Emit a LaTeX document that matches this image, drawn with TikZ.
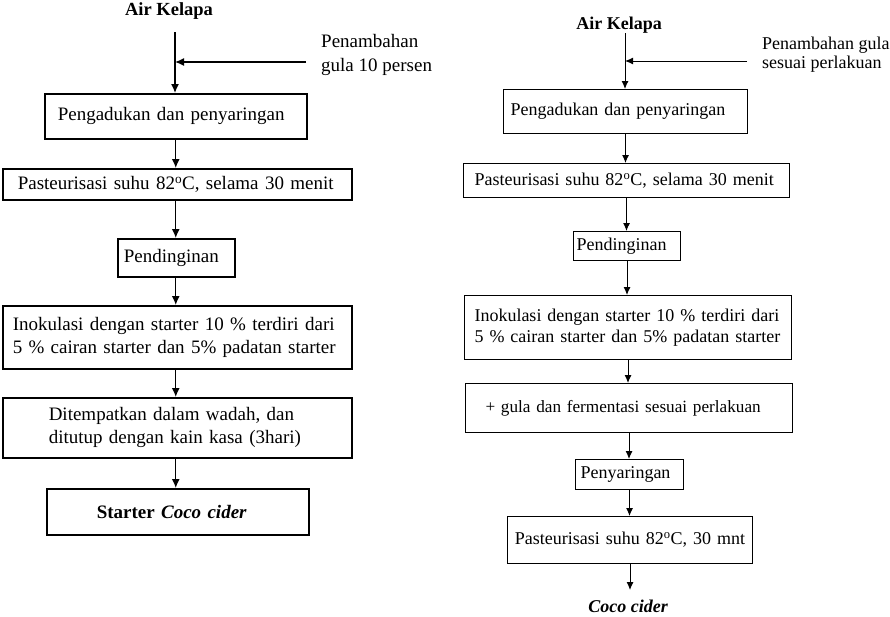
\documentclass[tikz,border=0pt]{standalone}
\usepackage{fontspec}
\setmainfont{Liberation Serif}
\usetikzlibrary{arrows.meta}
\begin{document}
\begin{tikzpicture}[x=1pt,y=-1pt,
 lbox/.style={draw, line width=1.5pt, anchor=north west, inner ysep=0pt, font=\fontsize{19}{23}\selectfont, align=left},
 rbox/.style={draw, line width=1pt, anchor=north west, inner ysep=0pt, font=\fontsize{18}{21}\selectfont, align=left},
 larr/.style={line width=1.4pt, -{Latex[length=9pt,width=8pt]}},
 rarr/.style={line width=1pt, -{Latex[length=8pt,width=7pt]}},
 ltxt/.style={font=\fontsize{19}{23}\selectfont, inner sep=0pt, anchor=base west},
 rtxt/.style={font=\fontsize{18}{21}\selectfont, inner sep=0pt, anchor=base west}]
\useasboundingbox (0,0) rectangle (890,616);

% ---------------- left chart ----------------
\node[font=\fontsize{18.5}{22}\selectfont\bfseries, inner sep=0pt, anchor=base] (lak) at (169,15) {Air Kelapa};
\coordinate (ltop) at (175,32);
\coordinate (lside) at (306,62);
\node[ltxt] (lp1) at (321,47) {Penambahan};
\node[ltxt] (lp2) at (321,71) {gula 10 persen};

\node[lbox, minimum width=262pt, minimum height=45pt, inner xsep=13pt, text width=236pt] (b1) at (44,93) {Pengadukan dan penyaringan};
\node[lbox, minimum width=349pt, minimum height=31pt, inner xsep=15pt, text width=319pt] (b2) at (2,168) {Pasteurisasi suhu 82\textsuperscript{o}C, selama 30 menit};
\node[lbox, minimum width=117pt, minimum height=38pt, inner xsep=6pt, text width=105pt] (b3) at (117,238) {Pendinginan};
\node[lbox, minimum width=349pt, minimum height=63pt, inner xsep=10pt, text width=329pt] (b4) at (2,305) {Inokulasi dengan starter 10 \% terdiri dari\\5 \% cairan starter dan 5\% padatan starter};
\node[lbox, minimum width=349pt, minimum height=60pt, inner xsep=46pt, text width=257pt] (b5) at (2,397) {Ditempatkan dalam wadah, dan\\ditutup dengan kain kasa (3hari)};
\node[lbox, minimum width=262pt, minimum height=46pt, inner xsep=50pt, text width=162pt] (b6) at (46,488) {\textbf{Starter \textit{Coco cider}}};

\draw[larr] (ltop) -- (ltop |- b1.north);
\draw[larr] (lside) -- (lside -| ltop);
\draw[larr] (b1.south) -- (b1.south |- b2.north);
\draw[larr] (b2.south -| b1.south) -- (b1.south |- b3.north);
\draw[larr] (b3.south -| b1.south) -- (b1.south |- b4.north);
\draw[larr] (b4.south -| b1.south) -- (b1.south |- b5.north);
\draw[larr] (b5.south -| b1.south) -- (b1.south |- b6.north);

% ---------------- right chart ----------------
\node[font=\fontsize{18}{21}\selectfont\bfseries, inner sep=0pt, anchor=base] (rak) at (619,29) {Air Kelapa};
\coordinate (rtop) at (625,33);
\coordinate (rside) at (747,61);
\node[rtxt] (rp1) at (762,49) {Penambahan gula};
\node[rtxt] (rp2) at (762,68) {sesuai perlakuan};

\node[rbox, minimum width=244pt, minimum height=44pt, inner xsep=7pt, text width=230pt] (r1) at (503,89) {Pengadukan dan penyaringan};
\node[rbox, minimum width=326pt, minimum height=34pt, inner xsep=11pt, text width=304pt] (r2) at (463,163) {Pasteurisasi suhu 82\textsuperscript{o}C, selama 30 menit};
\node[rbox, minimum width=107pt, minimum height=29pt, inner xsep=3pt, text width=101pt] (r3) at (573,231) {Pendinginan};
\node[rbox, minimum width=327pt, minimum height=64pt, inner xsep=10pt, text width=307pt] (r4) at (464,295) {Inokulasi dengan starter 10 \% terdiri dari\\5 \% cairan starter dan 5\% padatan starter};
\node[rbox, minimum width=327pt, minimum height=49pt, inner xsep=20pt, text width=287pt, font=\fontsize{17.2}{21}\selectfont] (r5) at (465,383) {\mbox{+ gula dan fermentasi sesuai perlakuan}};
\node[rbox, minimum width=108pt, minimum height=30pt, inner xsep=5pt, text width=98pt] (r6) at (575,459) {Penyaringan};
\node[rbox, minimum width=245pt, minimum height=47pt, inner xsep=5pt, text width=235pt, align=center] (r7) at (507,516) {Pasteurisasi suhu 82\textsuperscript{o}C, 30 mnt};
\coordinate (rend) at (630,590);
\node[font=\fontsize{18}{21}\selectfont\bfseries\itshape, inner sep=0pt, anchor=base] (cc) at (628,612) {Coco cider};

\draw[rarr] (rtop) -- (rtop |- r1.north);
\draw[rarr] (rside) -- (rside -| rtop);
\draw[rarr] (r1.south) -- (r1.south |- r2.north);
\draw[rarr] (r2.south) -- (r2.south |- r3.north);
\draw[rarr] (r3.south) -- (r3.south |- r4.north);
\draw[rarr] (r4.south) -- (r4.south |- r5.north);
\draw[rarr] (r5.south) -- (r5.south |- r6.north);
\draw[rarr] (r6.south) -- (r6.south |- r7.north);
\draw[rarr] (r7.south) -- (r7.south |- rend);
\end{tikzpicture}
\end{document}
